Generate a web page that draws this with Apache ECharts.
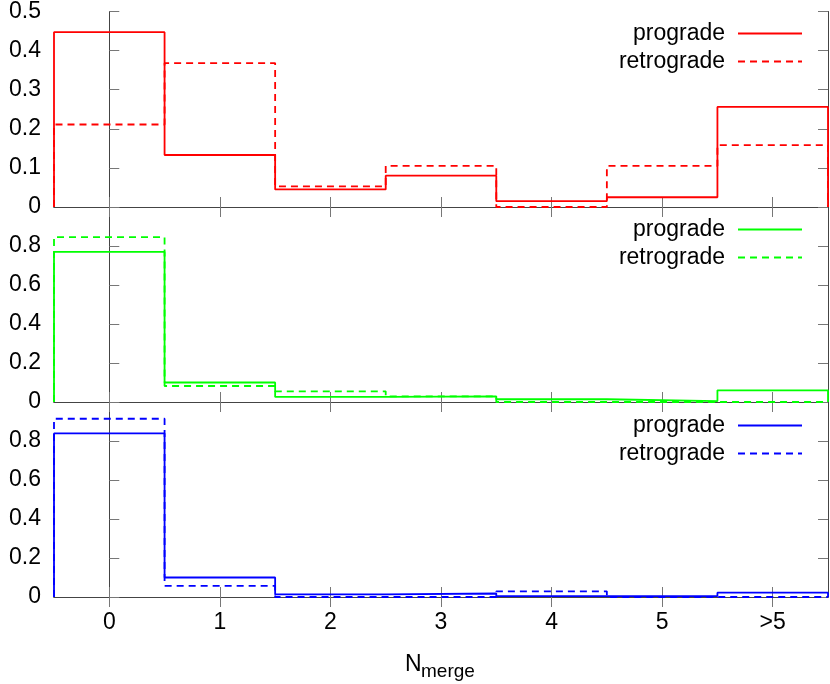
<!DOCTYPE html>
<html>
<head>
<meta charset="utf-8">
<script src="https://cdn.jsdelivr.net/npm/echarts@6/dist/echarts.min.js"></script>
<style>
html,body{margin:0;padding:0;background:#fff;}
#chart{width:830px;height:684px;}
</style>
</head>
<body>
<div id="chart"></div>
<script>
// ---- data ----
const categories = ['0', '1', '2', '3', '4', '5', '>5'];
const redPrograde    = [0.447, 0.133, 0.045, 0.080, 0.015, 0.025, 0.256];
const redRetrograde  = [0.211, 0.368, 0.053, 0.105, 0.000, 0.105, 0.158];
const greenPrograde   = [0.770, 0.100, 0.026, 0.029, 0.014, 0.005, 0.060];
const greenRetrograde = [0.846, 0.082, 0.055, 0.029, 0.000, 0.000, 0.000];
const bluePrograde    = [0.839, 0.100, 0.013, 0.018, 0.005, 0.005, 0.022];
const blueRetrograde  = [0.914, 0.057, 0.000, 0.000, 0.029, 0.000, 0.000];
const topTicks = [0, 0.1, 0.2, 0.3, 0.4, 0.5];
const lowTicks = [0, 0.2, 0.4, 0.6, 0.8];

const FONT = 'Liberation Sans, Arial, sans-serif';
const FS = 23;
const AXIS_COLOR = '#444';
const TICK_COLOR = '#777';

// histogram steps (gnuplot histeps-like): rise from 0 at left edge, fall to 0 at right edge
function histeps(vals) {
  const pts = [[-0.5, 0]];
  vals.forEach((v, i) => { pts.push([i - 0.5, v]); pts.push([i + 0.5, v]); });
  pts.push([vals.length - 0.5, 0]);
  return pts;
}

const grids = [
  { left: 54, right: 2, top: 10, height: 197 },
  { left: 54, right: 2, top: 207, height: 195 },
  { left: 54, right: 2, top: 402, height: 195 }
];

const xAxes = [];
const yAxes = [];
grids.forEach((g, gi) => {
  const isBottom = gi === 2;
  xAxes.push({
    type: 'category', gridIndex: gi, position: 'bottom', data: categories,
    boundaryGap: true,
    axisLine: { show: true, lineStyle: { color: AXIS_COLOR, width: 1 } },
    axisTick: { show: true, inside: true, length: 10, alignWithLabel: true, lineStyle: { color: TICK_COLOR } },
    axisLabel: { show: isBottom, margin: 14, fontSize: FS, fontFamily: FONT, color: '#000' },
    splitLine: { show: false }
  });
  xAxes.push({
    type: 'category', gridIndex: gi, position: 'top', data: categories,
    boundaryGap: true,
    axisLine: { show: true, lineStyle: { color: AXIS_COLOR, width: 1 } },
    axisTick: { show: true, inside: true, length: 10, alignWithLabel: true, lineStyle: { color: TICK_COLOR } },
    axisLabel: { show: false },
    splitLine: { show: false }
  });
  xAxes.push({
    type: 'value', gridIndex: gi, min: -0.5, max: categories.length - 0.5, show: false
  });
  const ticks = gi === 0 ? topTicks : lowTicks;
  const step = ticks[1] - ticks[0];
  const ymax = gi === 0 ? 0.5 : 1.0;
  const labelFmt = function (v) {
    if (Math.abs(v) < 1e-9) return '0';
    if (gi !== 0 && Math.abs(v - 1) < 1e-9) return '';
    return v.toFixed(1);
  };
  yAxes.push({
    type: 'value', gridIndex: gi, position: 'left', min: 0, max: ymax, interval: step,
    axisLine: { show: true, lineStyle: { color: AXIS_COLOR, width: 1 } },
    axisTick: { show: true, inside: true, length: 10, lineStyle: { color: TICK_COLOR } },
    axisLabel: { show: true, margin: 13, fontSize: FS, fontFamily: FONT, color: '#000', formatter: labelFmt },
    splitLine: { show: false }
  });
  yAxes.push({
    type: 'value', gridIndex: gi, position: 'right', min: 0, max: ymax, interval: step,
    axisLine: { show: true, lineStyle: { color: AXIS_COLOR, width: 1 } },
    axisTick: { show: true, inside: true, length: 10, lineStyle: { color: TICK_COLOR } },
    axisLabel: { show: false },
    splitLine: { show: false }
  });
});

const panels = [
  { color: '#ff0000', pro: redPrograde, retro: redRetrograde, key: 'red' },
  { color: '#00ff00', pro: greenPrograde, retro: greenRetrograde, key: 'green' },
  { color: '#0000ff', pro: bluePrograde, retro: blueRetrograde, key: 'blue' }
];

const series = [];
panels.forEach((p, gi) => {
  series.push({
    name: p.key + '-prograde', type: 'line', xAxisIndex: gi * 3 + 2, yAxisIndex: gi * 2,
    data: histeps(p.pro), symbol: 'none', showSymbol: false, clip: false,
    lineStyle: { color: p.color, width: 1.8, type: 'solid' }, itemStyle: { color: p.color },
    z: 3
  });
  series.push({
    name: p.key + '-retrograde', type: 'line', xAxisIndex: gi * 3 + 2, yAxisIndex: gi * 2,
    data: histeps(p.retro), symbol: 'none', showSymbol: false, clip: false,
    lineStyle: { color: p.color, width: 1.8, type: [7, 5] }, itemStyle: { color: p.color },
    z: 3
  });
});

const legendTops = [22, 218, 414];
const legends = panels.map((p, gi) => ({
  data: [p.key + '-prograde', p.key + '-retrograde'],
  orient: 'vertical', align: 'right', right: 27, top: legendTops[gi],
  padding: 0, itemWidth: 64, itemHeight: 14, itemGap: 5,
  selectedMode: false,
  itemStyle: { opacity: 0 },
  formatter: function (n) { return n.split('-')[1]; },
  textStyle: { fontSize: FS, fontFamily: FONT, color: '#000', padding: [0, 8, 0, 0] }
}));

const chart = echarts.init(document.getElementById('chart'), null, { renderer: 'canvas' });
chart.setOption({
  animation: false,
  backgroundColor: '#fff',
  grid: grids,
  xAxis: xAxes,
  yAxis: yAxes,
  legend: legends,
  series: series,
  graphic: [
    { type: 'text', left: 405, top: 653, style: { text: 'N', font: '23px ' + FONT, fill: '#000' } },
    { type: 'text', left: 421, top: 662, style: { text: 'merge', font: '19px ' + FONT, fill: '#000' } }
  ]
});
</script>
</body>
</html>
